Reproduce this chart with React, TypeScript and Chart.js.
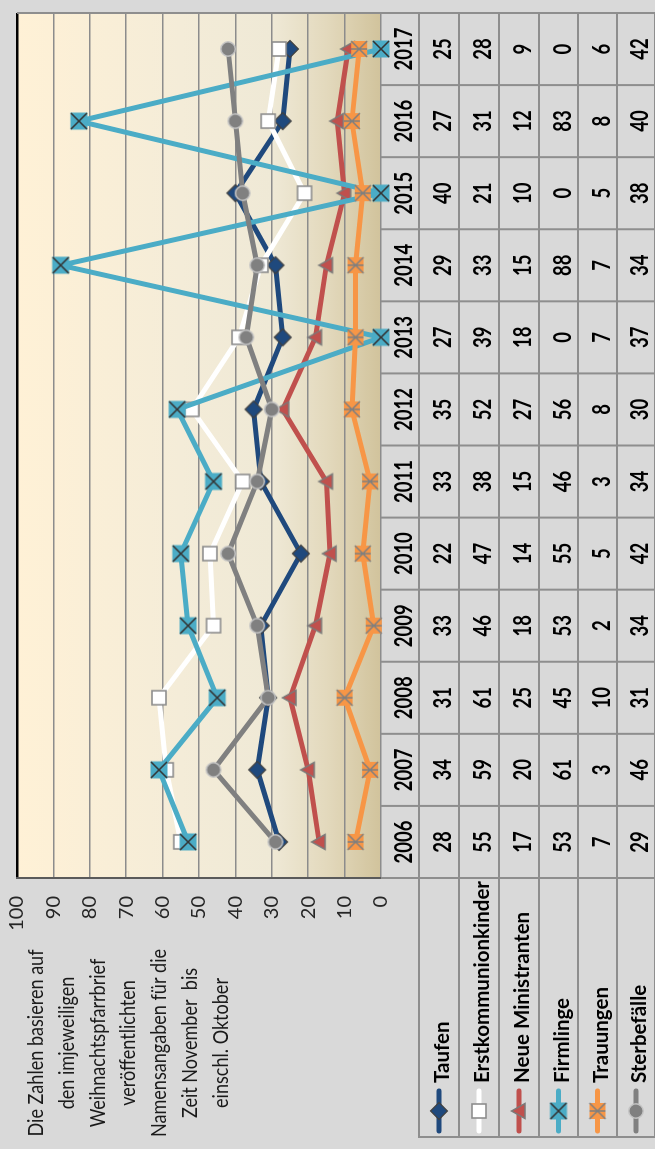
import React, { useEffect, useRef } from 'react';
import { Chart, registerables } from 'chart.js';

Chart.register(...registerables);

// ---- data ----
const years = ['2006', '2007', '2008', '2009', '2010', '2011', '2012', '2013', '2014', '2015', '2016', '2017'];
const taufen = [28, 34, 31, 33, 22, 33, 35, 27, 29, 40, 27, 25];
const erstkommunionkinder = [55, 59, 61, 46, 47, 38, 52, 39, 33, 21, 31, 28];
const neueMinistranten = [17, 20, 25, 18, 14, 15, 27, 18, 15, 10, 12, 9];
const firmlinge = [53, 61, 45, 53, 55, 46, 56, 0, 88, 0, 83, 0];
const trauungen = [7, 3, 10, 2, 5, 3, 8, 7, 7, 5, 8, 6];
const sterbefaelle = [29, 46, 31, 34, 42, 34, 30, 37, 34, 38, 40, 42];
const noteLines = [
  'Die Zahlen basieren auf',
  'den imjeweiligen',
  'Weihnachtspfarrbrief',
  'veröffentlichten',
  'Namensangaben für die',
  'Zeit November  bis',
  'einschl. Oktober',
];

const W = 1149;
const H = 655;
const TABLE_LEFT = 12;
const ROW_EDGES = [419, 459, 499, 539, 578, 617, 655];

function makeMarker(kind: string): HTMLCanvasElement {
  const c = document.createElement('canvas');
  c.width = 22;
  c.height = 22;
  const g = c.getContext('2d') as CanvasRenderingContext2D;
  const m = 11;
  g.lineJoin = 'miter';
  if (kind === 'diamond') {
    g.beginPath();
    g.moveTo(m, m - 8.5);
    g.lineTo(m + 8.5, m);
    g.lineTo(m, m + 8.5);
    g.lineTo(m - 8.5, m);
    g.closePath();
    g.fillStyle = '#1F497D';
    g.fill();
    g.strokeStyle = '#404040';
    g.lineWidth = 1.2;
    g.stroke();
  } else if (kind === 'square') {
    g.fillStyle = '#FFFFFF';
    g.fillRect(m - 7, m - 7, 14, 14);
    g.strokeStyle = '#8C8C8C';
    g.lineWidth = 1.6;
    g.strokeRect(m - 7, m - 7, 14, 14);
  } else if (kind === 'triangle') {
    g.beginPath();
    g.moveTo(m, m - 7.5);
    g.lineTo(m + 7.5, m + 6);
    g.lineTo(m - 7.5, m + 6);
    g.closePath();
    g.fillStyle = '#C0504D';
    g.fill();
    g.strokeStyle = '#7A7A7A';
    g.lineWidth = 1.5;
    g.stroke();
  } else if (kind === 'xsquare') {
    g.fillStyle = '#4BACC6';
    g.fillRect(m - 8.5, m - 8.5, 17, 17);
    g.strokeStyle = '#333333';
    g.lineWidth = 1.6;
    g.beginPath();
    g.moveTo(m - 8, m - 8);
    g.lineTo(m + 8, m + 8);
    g.moveTo(m + 8, m - 8);
    g.lineTo(m - 8, m + 8);
    g.stroke();
  } else if (kind === 'star') {
    g.fillStyle = '#F79646';
    g.fillRect(m - 8, m - 8, 16, 16);
    g.strokeStyle = '#7F7F7F';
    g.lineWidth = 1.5;
    g.beginPath();
    g.moveTo(m - 8, m - 8);
    g.lineTo(m + 8, m + 8);
    g.moveTo(m + 8, m - 8);
    g.lineTo(m - 8, m + 8);
    g.moveTo(m, m - 8);
    g.lineTo(m, m + 8);
    g.stroke();
  } else {
    g.beginPath();
    g.arc(m, m, 7.2, 0, Math.PI * 2);
    g.fillStyle = '#808080';
    g.fill();
    g.strokeStyle = '#C4C4C4';
    g.lineWidth = 1.5;
    g.stroke();
  }
  return c;
}

type Series = { label: string; data: number[]; color: string; marker: HTMLCanvasElement };

function drawScaled(
  ctx: CanvasRenderingContext2D,
  text: string,
  x: number,
  baseline: number,
  sx: number,
  align: CanvasTextAlign
) {
  ctx.save();
  ctx.translate(x, baseline);
  ctx.scale(sx, 1);
  ctx.textAlign = align;
  ctx.textBaseline = 'alphabetic';
  ctx.fillText(text, 0, 0);
  ctx.restore();
}

function makePlugin(series: Series[]) {
  return {
    id: 'tableAndNotes',
    beforeDraw(chart: any) {
      const { ctx, chartArea: a } = chart;
      ctx.save();
      ctx.fillStyle = '#D9D9D9';
      ctx.fillRect(0, 0, W, H);
      const g = ctx.createLinearGradient(0, a.top, 0, a.bottom);
      g.addColorStop(0, '#FFF1D6');
      g.addColorStop(0.45, '#F4ECD8');
      g.addColorStop(0.7, '#EFE9D6');
      g.addColorStop(0.85, '#E3D9BD');
      g.addColorStop(1, '#D1C39C');
      ctx.fillStyle = g;
      ctx.fillRect(a.left, a.top, a.right - a.left, a.bottom - a.top);
      ctx.restore();
    },
    beforeDatasetsDraw(chart: any) {
      const { ctx, chartArea: a } = chart;
      const xs = chart.scales.x;
      const n = years.length;
      const band = (a.right - a.left) / n;
      const edges = [a.bottom, ...ROW_EDGES];
      ctx.save();
      // table grid
      ctx.strokeStyle = '#8E8E8E';
      ctx.lineWidth = 2;
      ctx.beginPath();
      for (let r = 1; r < edges.length; r++) {
        ctx.moveTo(TABLE_LEFT, edges[r]);
        ctx.lineTo(a.right, edges[r]);
      }
      for (let i = 0; i <= n; i++) {
        const x = a.left + i * band;
        ctx.moveTo(x, a.bottom);
        ctx.lineTo(x, H);
      }
      ctx.moveTo(TABLE_LEFT, edges[1] - 1);
      ctx.lineTo(TABLE_LEFT, H);
      ctx.moveTo(a.right, a.top);
      ctx.lineTo(a.right, a.bottom);
      ctx.stroke();

      // header (years)
      ctx.fillStyle = '#000000';
      ctx.font = 'bold 25px Lato';
      years.forEach((yr, i) => {
        drawScaled(ctx, yr, xs.getPixelForValue(i), (edges[0] + edges[1]) / 2 + 12, 0.74, 'center');
      });
      // rows
      series.forEach((s, r) => {
        const cy = (edges[r + 1] + edges[r + 2]) / 2;
        ctx.fillStyle = '#000000';
        ctx.font = 'bold 25px Lato';
        s.data.forEach((v, i) => drawScaled(ctx, String(v), xs.getPixelForValue(i), cy + 12, 0.74, 'center'));
        // legend key
        ctx.strokeStyle = s.color;
        ctx.lineWidth = 5;
        ctx.lineCap = 'round';
        ctx.beginPath();
        ctx.moveTo(18, cy);
        ctx.lineTo(58, cy);
        ctx.stroke();
        ctx.drawImage(s.marker, 38 - s.marker.width / 2, cy - s.marker.height / 2);
        ctx.font = 'bold 20.5px Lato';
        ctx.fillStyle = '#000000';
        drawScaled(ctx, s.label, 66, cy + 10, 1, 'left');
      });

      // note text
      ctx.fillStyle = '#1A1A1A';
      ctx.font = '21px Lato';
      noteLines.forEach((t, i) => drawScaled(ctx, t, 106, 43 + 30.8 * i, 0.86, 'center'));
      ctx.restore();
    },
  };
}

export default function App() {
  const ref = useRef<HTMLCanvasElement>(null);
  useEffect(() => {
    const canvas = ref.current;
    if (!canvas) return;
    const series: Series[] = [
      { label: 'Taufen', data: taufen, color: '#1F497D', marker: makeMarker('diamond') },
      { label: 'Erstkommunionkinder', data: erstkommunionkinder, color: '#FFFFFF', marker: makeMarker('square') },
      { label: 'Neue Ministranten', data: neueMinistranten, color: '#C0504D', marker: makeMarker('triangle') },
      { label: 'Firmlinge', data: firmlinge, color: '#4BACC6', marker: makeMarker('xsquare') },
      { label: 'Trauungen', data: trauungen, color: '#F79646', marker: makeMarker('star') },
      { label: 'Sterbefälle', data: sterbefaelle, color: '#808080', marker: makeMarker('circle') },
    ];
    const chart = new Chart(canvas, {
      type: 'line',
      data: {
        labels: years,
        datasets: series.map((s, i) => ({
          label: s.label,
          data: s.data,
          borderColor: s.color,
          backgroundColor: s.color,
          borderWidth: 5,
          borderJoinStyle: 'round',
          pointStyle: s.marker,
          pointRadius: 8,
          tension: 0,
          clip: false,
          order: series.length - 1 - i,
        })) as any,
      },
      options: {
        animation: false,
        responsive: false,
        devicePixelRatio: 1,
        layout: { padding: { top: 17, right: 2, left: 0, bottom: 0 } },
        plugins: { legend: { display: false }, tooltip: { enabled: false } },
        scales: {
          x: {
            type: 'category',
            offset: true,
            grid: { display: false },
            border: { display: false },
            ticks: { display: false },
            afterFit: (s: any) => {
              s.height = H - 381;
            },
          },
          y: {
            min: 0,
            max: 100,
            ticks: {
              stepSize: 10,
              padding: 0,
              color: '#262626',
              font: { family: 'Lato', size: 20 },
            },
            grid: {
              drawTicks: true,
              tickLength: 18,
              tickColor: 'rgba(0,0,0,0)',
              color: (c: any) => (c.tick && c.tick.value === 100 ? '#000000' : '#8C8C8C'),
              lineWidth: (c: any) => (c.tick && c.tick.value === 100 ? 2.5 : 1.6),
            },
            border: { display: true, color: '#5A5A5A', width: 2 },
            afterFit: (s: any) => {
              s.width = 271;
            },
          },
        },
      } as any,
      plugins: [makePlugin(series) as any],
    });
    return () => chart.destroy();
  }, []);

  return (
    <div style={{ position: 'absolute', left: 0, top: 0, width: H, height: W, overflow: 'hidden', background: '#D9D9D9' }}>
      <div
        style={{
          position: 'absolute',
          left: 0,
          top: 0,
          width: W,
          height: H,
          transformOrigin: '0 0',
          transform: `rotate(-90deg) translate(-${W}px, 0px)`,
        }}
      >
        <canvas ref={ref} width={W} height={H} style={{ display: 'block', width: W, height: H }} />
      </div>
    </div>
  );
}
